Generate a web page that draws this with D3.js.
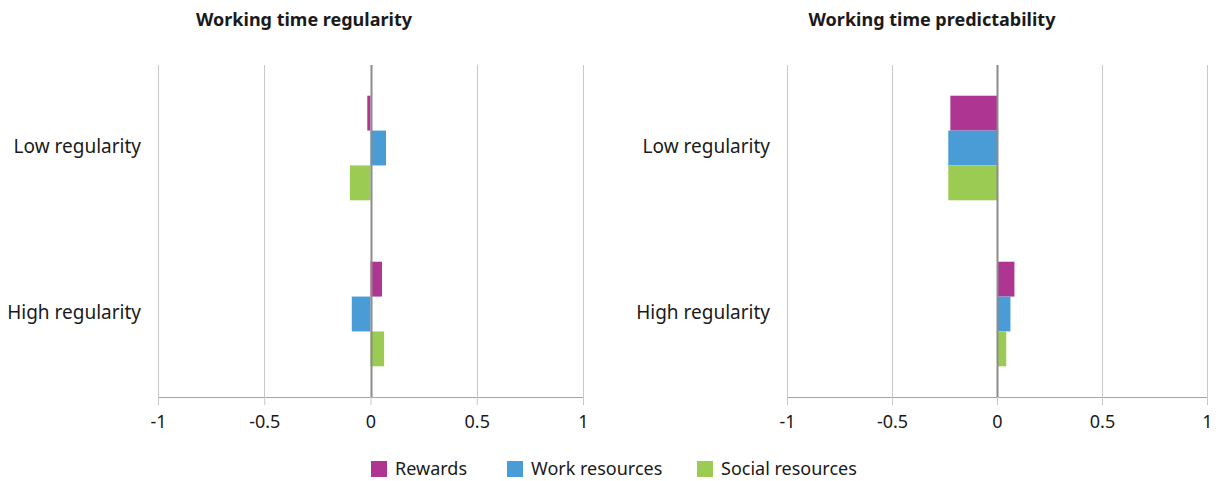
<!DOCTYPE html>
<html>
<head>
<meta charset="utf-8">
<script src="https://cdn.jsdelivr.net/npm/d3@7"></script>
<style>
  html, body { margin: 0; padding: 0; background: #fff; }
  svg { display: block; }
  text { font-family: "Noto Sans", sans-serif; fill: #1a1a1a; }
</style>
</head>
<body>
<svg id="chart" width="1216" height="481"></svg>
<script>
const categories = ["Low regularity", "High regularity"];
const seriesNames = ["Rewards", "Work resources", "Social resources"];
const seriesColors = ["#AE3592", "#4A9CD6", "#9BCB53"];
const panelTitles = ["Working time regularity", "Working time predictability"];
// values[category][series]
const regularityValues = [
  [-0.015, 0.073, -0.097],
  [0.054, -0.088, 0.064]
];
const predictabilityValues = [
  [-0.222, -0.232, -0.232],
  [0.083, 0.064, 0.044]
];
const tickValues = [-1, -0.5, 0, 0.5, 1];

const svg = d3.select("#chart");
const panels = [
  { title: panelTitles[0], values: regularityValues, x0: 158, x1: 583, titleX: 304 },
  { title: panelTitles[1], values: predictabilityValues, x0: 787, x1: 1207, titleX: 932 }
];
const plotTop = 65, plotBottom = 397;

panels.forEach(p => {
  const g = svg.append("g");
  const x = d3.scaleLinear().domain([-1, 1]).range([p.x0, p.x1]);
  const y = d3.scaleBand().domain(categories).range([plotTop, plotBottom]).paddingInner(0.37).paddingOuter(0.185);
  const ys = d3.scaleBand().domain(seriesNames).range([0, y.bandwidth()]);

  g.selectAll("line.grid").data(tickValues.filter(t => t !== 0)).join("line")
    .attr("class", "grid")
    .attr("x1", d => Math.round(x(d)) + 0.5).attr("x2", d => Math.round(x(d)) + 0.5)
    .attr("y1", plotTop).attr("y2", plotBottom)
    .attr("stroke", "#c8c8c8").attr("stroke-width", 1);

  g.append("text").attr("x", p.titleX).attr("y", 26).attr("text-anchor", "middle")
    .style("font-weight", "bold").style("font-size", "18px").text(p.title);

  categories.forEach((c, ci) => {
    seriesNames.forEach((s, si) => {
      const v = p.values[ci][si];
      g.append("rect")
        .attr("x", x(Math.min(0, v)))
        .attr("width", Math.abs(x(v) - x(0)))
        .attr("y", y(c) + ys(s))
        .attr("height", ys.bandwidth())
        .attr("fill", seriesColors[si]);
    });
    g.append("text").attr("x", p.x0 - 17).attr("y", y(c) + y.bandwidth() / 2 + 5)
      .attr("text-anchor", "end").style("font-size", "19px").text(c);
  });

  g.append("line").attr("x1", Math.round(x(0)) + 0.5).attr("x2", Math.round(x(0)) + 0.5)
    .attr("y1", plotTop).attr("y2", plotBottom).attr("stroke", "#8c8c8c").attr("stroke-width", 2);

  const axis = d3.axisBottom(x).tickValues(tickValues).tickSize(8).tickPadding(10)
    .tickFormat(d => d3.format("")(d).replace("−", "-"));
  const ag = g.append("g").attr("transform", `translate(0,${plotBottom})`).call(axis);
  ag.select(".domain").attr("stroke", "#a6a6a6").attr("d", `M${p.x0},0.5H${p.x1}`);
  ag.selectAll(".tick line").attr("stroke", "#c8c8c8");
  ag.selectAll(".tick text").style("font-size", "18px").style("font-family", "'Noto Sans', sans-serif").attr("fill", "#1a1a1a");
});

const legendX = [371, 507, 697];
const lg = svg.append("g");
seriesNames.forEach((s, i) => {
  lg.append("rect").attr("x", legendX[i]).attr("y", 461).attr("width", 16).attr("height", 16).attr("fill", seriesColors[i]);
  lg.append("text").attr("x", legendX[i] + 24).attr("y", 475).style("font-size", "18px").text(s);
});
</script>
</body>
</html>
